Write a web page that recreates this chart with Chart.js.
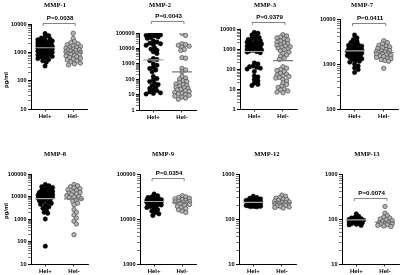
<!DOCTYPE html>
<html>
<head>
<meta charset="utf-8">
<script src="https://cdn.jsdelivr.net/npm/chart.js@4.4.1/dist/chart.umd.min.js"></script>
<style>
  html, body { margin: 0; padding: 0; background: #fff; overflow: hidden; }
  body { width: 401px; height: 275px; position: relative; }
  canvas { position: absolute; }
</style>
</head>
<body>
<script>
// groups and titles
const groups = ["Hel+", "Hel-"];
const titles = ["MMP-1", "MMP-2", "MMP-3", "MMP-7", "MMP-8", "MMP-9", "MMP-12", "MMP-13"];
const pTexts = ["P=0.0038", "P=0.0043", "P=0.0379", "P=0.0411", null, "P=0.0354", null, "P=0.0074"];

// y tick labels per panel
const yTicks1 = [10, 100, 1000, 10000];
const yTicks2 = [1, 10, 100, 1000, 10000, 100000];
const yTicks3 = [1, 10, 100, 1000, 10000];
const yTicks7 = [100, 1000, 10000];
const yTicks8 = [10, 100, 1000, 10000, 100000];
const yTicks9 = [1000, 10000, 100000];
const yTicks12 = [10, 100, 1000];
const yTicks13 = [10, 100, 1000];

// values (pg/ml)
const mmp1Pos = [4600, 3900, 3500, 3200, 3000, 2800, 2600, 2500, 2400, 2300, 2200, 2100, 2000, 1950, 1900, 1800, 1750, 1700, 1650, 1600, 1550, 1500, 1450, 1400, 1350, 1300, 1250, 1200, 1150, 1100, 1050, 1000, 960, 920, 880, 840, 800, 760, 720, 680, 640, 600, 560, 500, 450, 330];
const mmp1Neg = [4700, 3100, 2400, 2200, 2000, 1850, 1700, 1600, 1500, 1450, 1400, 1300, 1250, 1200, 1150, 1100, 1050, 1000, 960, 920, 880, 850, 820, 780, 750, 700, 660, 620, 580, 540, 500, 460, 420, 390, 360];
const mmp2Pos = [90000, 85000, 80000, 75000, 70000, 65000, 55000, 50000, 45000, 30000, 26000, 22000, 20000, 18000, 16000, 11000, 9000, 7700, 6000, 4700, 2200, 1900, 1600, 1000, 800, 600, 500, 400, 300, 150, 110, 90, 70, 55, 45, 38, 30, 25, 20, 18, 15, 13, 12, 11];
const mmp2Neg = [95000, 70000, 20000, 18000, 16000, 14000, 12000, 8500, 7500, 2500, 2300, 500, 400, 300, 150, 120, 100, 80, 70, 60, 50, 45, 40, 35, 30, 28, 25, 22, 20, 18, 16, 14, 12, 11, 10, 9, 8, 7, 6, 5];
const mmp3Pos = [6800, 6200, 5000, 4300, 3800, 3400, 3000, 2800, 2600, 2400, 2200, 2000, 1900, 1800, 1700, 1600, 1500, 1400, 1300, 1200, 1100, 1000, 950, 900, 850, 800, 750, 700, 650, 200, 180, 140, 130, 120, 110, 100, 75, 45, 40, 30, 25, 20, 17, 15];
const mmp3Neg = [5200, 4500, 4000, 3600, 3200, 2800, 2500, 2200, 2000, 1800, 1600, 1500, 1400, 1300, 1200, 1100, 1000, 900, 800, 700, 600, 500, 430, 350, 300, 130, 110, 95, 85, 75, 60, 55, 50, 45, 42, 38, 35, 30, 25, 20, 17, 14, 12, 10, 9, 8, 7, 6.5];
const mmp7Pos = [4400, 3800, 3500, 3200, 3000, 2800, 2700, 2600, 2500, 2400, 2300, 2200, 2150, 2100, 2050, 2000, 1950, 1900, 1850, 1800, 1750, 1700, 1650, 1600, 1550, 1500, 1450, 1400, 1350, 1300, 1250, 1200, 1150, 1100, 1000, 900, 820, 750, 650];
const mmp7Neg = [3300, 3000, 2800, 2600, 2500, 2400, 2300, 2200, 2100, 2000, 1950, 1900, 1850, 1800, 1750, 1700, 1650, 1600, 1550, 1500, 1450, 1400, 1350, 1300, 1250, 1200, 1150, 800];
const mmp8Pos = [34000, 30000, 27000, 25000, 23000, 21000, 19000, 17000, 16000, 15000, 14000, 13000, 12500, 12000, 11500, 11000, 10500, 10000, 9500, 9000, 8500, 8000, 7500, 7000, 6500, 6000, 5500, 5000, 4500, 4000, 3500, 3000, 2600, 2000, 1800, 1000, 62];
const mmp8Neg = [34000, 30000, 27000, 24000, 22000, 20000, 18000, 16000, 15000, 14000, 13000, 12000, 11000, 10000, 9500, 9000, 8000, 7000, 6000, 5000, 4300, 2600, 2000, 1500, 1100, 800, 600, 200];
const mmp9Pos = [36000, 33000, 31000, 30000, 29000, 28000, 27500, 27000, 26500, 26000, 25500, 25000, 24500, 24000, 23500, 23000, 22500, 22000, 21500, 21000, 20500, 20000, 19500, 19000, 18000, 17000, 16000, 15000, 14000, 13000, 12000];
const mmp9Neg = [33000, 31000, 30000, 29000, 28000, 27000, 26000, 25000, 24500, 24000, 23500, 23000, 22000, 21000, 20000, 19000, 18000, 17000, 16000, 15000, 14000];
const mmp12Pos = [320, 300, 290, 280, 270, 260, 255, 250, 245, 240, 235, 230, 225, 220, 215, 210, 205, 200, 198, 195, 192, 190, 188, 186];
const mmp12Neg = [340, 320, 300, 290, 280, 270, 260, 250, 240, 235, 230, 225, 220, 215, 210, 205, 200, 195, 190, 185, 180, 175];
const mmp13Pos = [130, 115, 110, 105, 102, 100, 98, 96, 94, 92, 90, 88, 86, 84, 82, 80, 78, 76, 74, 72];
const mmp13Neg = [190, 135, 120, 110, 105, 100, 96, 92, 88, 85, 82, 80, 78, 76, 74, 72, 70, 68];

// group lines
const linePos = [1450, 1800, 750, 1950, 8000, 24500, 235, 96];
const lineNeg = [1050, 300, 260, 1800, 7800, 23500, 225, 85];

const posSets = [mmp1Pos, mmp2Pos, mmp3Pos, mmp7Pos, mmp8Pos, mmp9Pos, mmp12Pos, mmp13Pos];
const negSets = [mmp1Neg, mmp2Neg, mmp3Neg, mmp7Neg, mmp8Neg, mmp9Neg, mmp12Neg, mmp13Neg];
const tickSets = [yTicks1, yTicks2, yTicks3, yTicks7, yTicks8, yTicks9, yTicks12, yTicks13];

// page layout (pixels) and bracket height (data units)
const layout = [
    { ax: 31, top: 24, bottom: 109, right: 88, row: 0, tx: 55, ty: 5, bracket: 10800, yTitle: 80 },
    { ax: 139, top: 33, bottom: 110, right: 197, row: 0, tx: 160, ty: 5, bracket: 590000 },
    { ax: 240, top: 29, bottom: 109, right: 298, row: 0, tx: 265, ty: 5, bracket: 22000 },
    { ax: 340, top: 19, bottom: 109, right: 399, row: 0, tx: 362, ty: 5, bracket: 8150 },
    { ax: 31, top: 174, bottom: 264, right: 89, row: 140, tx: 55, ty: 154, yTitle: 211 },
    { ax: 140, top: 174, bottom: 264, right: 197, row: 140, tx: 163, ty: 154, bracket: 81500 },
    { ax: 239, top: 174, bottom: 264, right: 297, row: 140, tx: 267, ty: 154 },
    { ax: 342, top: 174, bottom: 264, right: 400, row: 140, tx: 367, ty: 154, bracket: 293 }
];

const YW = 28;
const XH = 14;
const sansBold = { family: "'Liberation Sans', Arial, sans-serif", size: 5.6, weight: "bold" };

function logTicks(labels) {
    let ticks = [];
    for (let i = 0; i < labels.length; i++) {
        ticks.push({ value: labels[i], major: true });
        if (i < labels.length - 1) {
            for (let k = 2; k <= 9; k++) ticks.push({ value: labels[i] * k, major: false });
        }
    }
    return ticks;
}

const panelText = {
    id: "panelText",
    afterDraw(chart, args, opts) {
        const ctx = chart.ctx;
        const L = opts.layout;
        const ox = L.ax - YW, oy = L.row;
        ctx.save();
        ctx.fillStyle = "#000";
        ctx.textAlign = "center";
        ctx.textBaseline = "middle";
        ctx.font = "bold 6.6px 'Liberation Serif', 'DejaVu Serif', serif";
        ctx.fillText(opts.title, L.tx - ox, L.ty - oy);
        if (opts.p) {
            const xs = chart.scales.x, ys = chart.scales.y;
            const x0 = xs.getPixelForValue(-0.07), x1 = xs.getPixelForValue(1.07);
            const y = Math.round(ys.getPixelForValue(L.bracket)) + 0.5;
            ctx.strokeStyle = "#666";
            ctx.lineWidth = 0.8;
            ctx.beginPath();
            ctx.moveTo(x0, y + 2.5);
            ctx.lineTo(x0, y);
            ctx.lineTo(x1, y);
            ctx.lineTo(x1, y + 2.5);
            ctx.stroke();
            ctx.font = "bold 6.2px 'Liberation Sans', Arial, sans-serif";
            ctx.fillText(opts.p, (x0 + x1) / 2 + 1, y - 5);
        }
        if (L.yTitle) {
            ctx.translate(6 - ox, L.yTitle - oy);
            ctx.rotate(-Math.PI / 2);
            ctx.font = "bold 6px 'Liberation Sans', Arial, sans-serif";
            ctx.fillText("pg/ml", 0, 0);
        }
        ctx.restore();
    }
};

// beeswarm offsets worked out from each value's pixel on the y scale
function swarm(chart) {
    const xs = chart.scales.x, ys = chart.scales.y;
    const unit = xs.getPixelForValue(1) - xs.getPixelForValue(0);
    const minSep = 3.3, step = 1.2, maxHalf = 7.5;
    const k = Math.floor(maxHalf / step);
    chart.data.datasets.forEach(ds => {
        if (ds.center === undefined) return;
        const placed = [];
        const order = ds.data.map((p, i) => i).sort((a, b) => ds.data[b].y - ds.data[a].y);
        order.forEach(i => {
            const py = ys.getPixelForValue(ds.data[i].y);
            let best = 0, bestScore = -1;
            for (let j = 0; j <= 2 * k; j++) {
                const off = (j % 2 ? 1 : -1) * Math.ceil(j / 2) * step;
                let d = Infinity;
                placed.forEach(p => { d = Math.min(d, Math.hypot(p.x - off, p.y - py)); });
                if (d >= minSep) { best = off; break; }
                if (d > bestScore) { bestScore = d; best = off; }
            }
            placed.push({ x: best, y: py });
            ds.data[i].x = ds.center + best / unit;
        });
    });
    chart.update("none");
}

function criarPainel(i) {
    const L = layout[i];
    const ticks = tickSets[i];
    const canvas = document.createElement("canvas");
    const w = YW + (L.right - L.ax) + 4;
    const h = L.bottom + XH - L.row;
    canvas.width = w;
    canvas.height = h;
    canvas.style.left = (L.ax - YW) + "px";
    canvas.style.top = L.row + "px";
    document.body.appendChild(canvas);

    const chart = new Chart(canvas, {
        type: "scatter",
        data: {
            datasets: [
                {
                    data: [{ x: -0.35, y: linePos[i] }, { x: 0.35, y: linePos[i] }],
                    showLine: true, borderColor: "#a8a8a8", borderWidth: 1.2, pointRadius: 0, order: 0
                },
                {
                    data: [{ x: 0.65, y: lineNeg[i] }, { x: 1.35, y: lineNeg[i] }],
                    showLine: true, borderColor: "#7a7a7a", borderWidth: 1.2, pointRadius: 0, order: 0
                },
                {
                    data: posSets[i].map(v => ({ x: 0, y: v })),
                    center: 0,
                    backgroundColor: "#000", borderColor: "#000", borderWidth: 0.5,
                    pointRadius: 2.2, order: 1
                },
                {
                    data: negSets[i].map(v => ({ x: 1, y: v })),
                    center: 1,
                    backgroundColor: "#b4b4b4", borderColor: "#4a4a4a", borderWidth: 0.7,
                    pointRadius: 2.2, order: 1
                }
            ]
        },
        options: {
            responsive: false,
            animation: false,
            layout: { padding: { top: L.top - L.row, right: 4, bottom: 0, left: 0 } },
            plugins: {
                legend: { display: false },
                tooltip: { enabled: false },
                panelText: { title: titles[i], p: pTexts[i], layout: L }
            },
            scales: {
                x: {
                    type: "linear", min: -0.5, max: 1.5,
                    afterBuildTicks: s => { s.ticks = [{ value: 0 }, { value: 1 }]; },
                    afterFit: s => { s.height = XH; },
                    ticks: {
                        autoSkip: false, padding: 1, color: "#000",
                        font: { family: "'Liberation Sans', Arial, sans-serif", size: 6, weight: "bold" },
                        callback: v => groups[v]
                    },
                    grid: { display: true, drawOnChartArea: false, tickLength: 2.5, color: "#000", lineWidth: 0.8 },
                    border: { display: true, color: "#000", width: 1 }
                },
                y: {
                    type: "logarithmic",
                    min: ticks[0], max: ticks[ticks.length - 1],
                    afterBuildTicks: s => { s.ticks = logTicks(ticks); },
                    afterFit: s => { s.width = YW; },
                    ticks: {
                        autoSkip: false, padding: 1.5, color: "#000", font: sansBold,
                        callback: v => (Number.isInteger(Math.log10(v)) ? String(v) : "")
                    },
                    grid: {
                        display: true, drawOnChartArea: false, tickLength: 3, color: "#000",
                        tickWidth: c => (c.tick && c.tick.major ? 1 : 0.5)
                    },
                    border: { display: true, color: "#000", width: 1 }
                }
            }
        },
        plugins: [panelText]
    });
    swarm(chart);
}

for (let i = 0; i < 8; i++) criarPainel(i);
</script>
</body>
</html>
